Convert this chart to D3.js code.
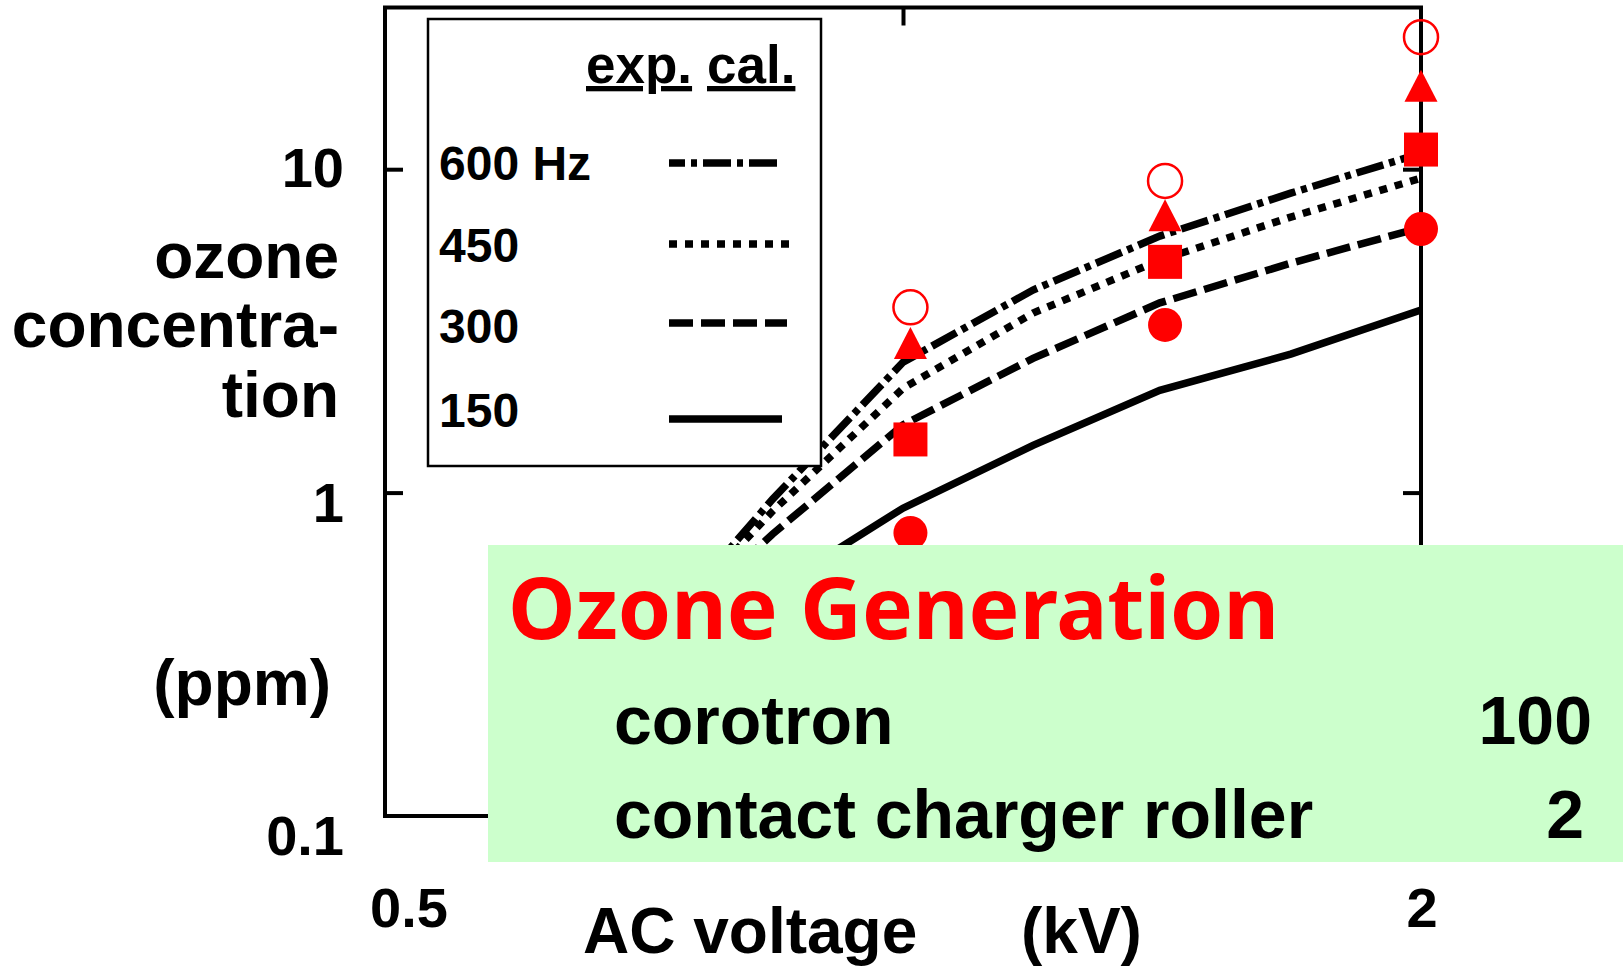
<!DOCTYPE html>
<html lang="en">
<head>
  <meta charset="UTF-8">
  <title>Ozone generation vs AC voltage</title>
  <style>
    body { margin: 0; background: #fff; }
    svg { display: block; background: #fff; }
    text { font-family: "Liberation Sans", Arial, sans-serif; font-weight: bold; fill: #000; }
  </style>
</head>
<body>
<svg width="1623" height="969"></svg>

<script src="https://d3js.org/d3.v7.min.js"></script>
<script>
  // ---- data ----
  const calVoltages = [0.71, 0.84, 1.0, 1.19, 1.41, 1.68, 2.0];
  const cal600 = [0.34, 0.955, 2.53, 4.23, 6.21, 8.43, 11.2];
  const cal450 = [0.34, 0.877, 2.10, 3.59, 5.23, 7.11, 9.38];
  const cal300 = [0.325, 0.745, 1.62, 2.60, 3.86, 5.12, 6.6];
  const cal150 = [0.26, 0.50, 0.895, 1.40, 2.07, 2.68, 3.67];

  const expVoltages = [1.01, 1.42, 2.0];
  const exp600 = [3.74, 9.2, 25.6];   // open circle
  const exp450 = [2.90, 7.21, 18.1];  // triangle
  const exp300 = [1.46, 5.17, 11.5];  // square
  const exp150 = [0.75, 3.30, 6.53];  // filled circle

  const legendLabels = ["600 Hz", "450", "300", "150"];
  const yTickValues = [0.1, 1, 10];
  const yTickLabels = ["0.1", "1", "10"];
  const xTickValues = [0.5, 2];
  const xTickLabels = ["0.5", "2"];
  const tableRows = ["corotron", "contact charger roller"];
  const tableValues = ["100", "2"];

  // ---- setup ----
  const svg = d3.select("svg");
  const x = d3.scaleLog().domain([0.5, 2]).range([385, 1421]);
  const y = d3.scaleLog().domain([0.1, Math.pow(10, 1.5)]).range([816, 7.5]);

  const styles = [
    { vals: cal600, dash: "28,6,6,6" },
    { vals: cal450, dash: "8,8" },
    { vals: cal300, dash: "24,8" },
    { vals: cal150, dash: null }
  ];

  // frame
  svg.append("rect")
    .attr("x", x(0.5)).attr("y", y(Math.pow(10, 1.5)))
    .attr("width", x(2) - x(0.5)).attr("height", y(0.1) - y(Math.pow(10, 1.5)))
    .attr("fill", "none").attr("stroke", "#000").attr("stroke-width", 4);

  // inward ticks
  const tickStyle = g => {
    g.select(".domain").remove();
    g.selectAll("line").attr("stroke", "#000").attr("stroke-width", 4);
  };
  svg.append("g").attr("transform", `translate(${x(0.5)},0)`)
    .call(d3.axisRight(y).tickValues([1, 10]).tickSize(18).tickFormat(""))
    .call(tickStyle);
  svg.append("g").attr("transform", `translate(${x(2)},0)`)
    .call(d3.axisLeft(y).tickValues([1, 10]).tickSize(18).tickFormat(""))
    .call(tickStyle);
  svg.append("g").attr("transform", `translate(0,${y(Math.pow(10, 1.5))})`)
    .call(d3.axisBottom(x).tickValues([1]).tickSize(18).tickFormat(""))
    .call(tickStyle);
  svg.append("g").attr("transform", `translate(0,${y(0.1)})`)
    .call(d3.axisTop(x).tickValues([1]).tickSize(18).tickFormat(""))
    .call(tickStyle);

  // calculated lines
  const line = d3.line().x((d, i) => x(calVoltages[i])).y(d => y(d));
  styles.forEach(s => {
    svg.append("path")
      .attr("d", line(s.vals))
      .attr("fill", "none")
      .attr("stroke", "#000")
      .attr("stroke-width", 7.5)
      .attr("stroke-linejoin", "miter")
      .attr("stroke-dasharray", s.dash);
  });

  // experimental markers
  const red = "#ff0000";
  const mk = svg.append("g");
  exp600.forEach((v, i) => mk.append("circle")
    .attr("cx", x(expVoltages[i])).attr("cy", y(v)).attr("r", 17)
    .attr("fill", "none").attr("stroke", red).attr("stroke-width", 2.5));
  exp450.forEach((v, i) => {
    const cx = x(expVoltages[i]), cy = y(v);
    mk.append("path")
      .attr("d", `M${cx},${cy - 16}L${cx + 16.5},${cy + 16}L${cx - 16.5},${cy + 16}Z`)
      .attr("fill", red);
  });
  exp300.forEach((v, i) => mk.append("rect")
    .attr("x", x(expVoltages[i]) - 17).attr("y", y(v) - 17)
    .attr("width", 34).attr("height", 34).attr("fill", red));
  exp150.forEach((v, i) => mk.append("circle")
    .attr("cx", x(expVoltages[i])).attr("cy", y(v)).attr("r", 17).attr("fill", red));

  // legend
  const lg = svg.append("g");
  lg.append("rect").attr("x", 428).attr("y", 19).attr("width", 393).attr("height", 447)
    .attr("fill", "#fff").attr("stroke", "#000").attr("stroke-width", 2.5);
  lg.append("text").attr("x", 586).attr("y", 83).attr("font-size", 53)
    .attr("text-decoration", "underline").text("exp.");
  lg.append("text").attr("x", 707).attr("y", 83).attr("font-size", 53)
    .attr("text-decoration", "underline").text("cal.");
  const rowBase = [180, 262, 343, 427];
  const rowLine = [163, 244, 323, 419];
  const rowEnd = [777, 789, 787, 782];
  legendLabels.forEach((t, i) => {
    lg.append("text").attr("x", 439).attr("y", rowBase[i]).attr("font-size", 48).text(t);
    lg.append("line")
      .attr("x1", 669).attr("x2", rowEnd[i]).attr("y1", rowLine[i]).attr("y2", rowLine[i])
      .attr("stroke", "#000").attr("stroke-width", 7.5)
      .attr("stroke-dasharray", styles[i].dash)
      .attr("stroke-dashoffset", i === 0 ? 12 : 0);
  });

  // y tick labels
  const yNudge = [39, 29, 18];
  yTickValues.forEach((v, i) => {
    svg.append("text").attr("x", 344).attr("y", y(v) + yNudge[i])
      .attr("text-anchor", "end").attr("font-size", 56).text(yTickLabels[i]);
  });

  // x tick labels
  const xNudge = [24, 1];
  xTickValues.forEach((v, i) => {
    svg.append("text").attr("x", x(v) + xNudge[i]).attr("y", 927)
      .attr("text-anchor", "middle").attr("font-size", 56).text(xTickLabels[i]);
  });

  // axis titles
  [["ozone", 278], ["concentra-", 347], ["tion", 417]].forEach(([t, yy]) => {
    svg.append("text").attr("x", 339).attr("y", yy).attr("text-anchor", "end")
      .attr("font-size", 64).text(t);
  });
  svg.append("text").attr("x", 331).attr("y", 705).attr("text-anchor", "end")
    .attr("font-size", 64).text("(ppm)");
  svg.append("text").attr("x", 583).attr("y", 953).attr("font-size", 64).text("AC voltage");
  svg.append("text").attr("x", 1021).attr("y", 953).attr("font-size", 64).text("(kV)");

  // green overlay box
  const gb = svg.append("g");
  gb.append("rect").attr("x", 488).attr("y", 545).attr("width", 1623 - 488).attr("height", 317)
    .attr("fill", "#ccffcc");
  gb.append("text").attr("x", 508).attr("y", 639)
    .style("font-family", "'Noto Sans', sans-serif").style("fill", red)
    .attr("font-size", 85.5).text("Ozone Generation");
  tableRows.forEach((t, i) => {
    gb.append("text").attr("x", 614).attr("y", 744 + i * 94).attr("font-size", 68).text(t);
    gb.append("text").attr("x", 1592 - i * 8).attr("y", 744 + i * 94)
      .attr("text-anchor", "end").attr("font-size", 68).text(tableValues[i]);
  });
</script>
</body>
</html>
